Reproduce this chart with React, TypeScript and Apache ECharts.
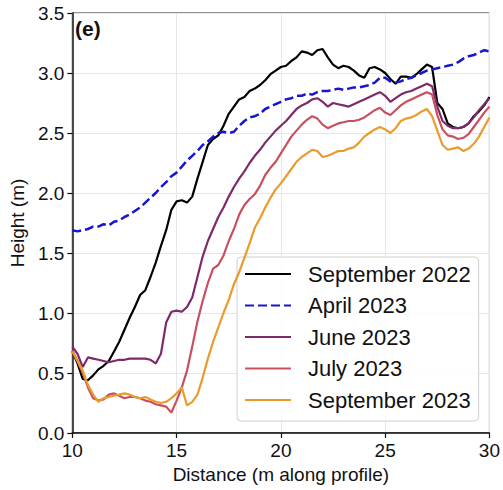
import React, { useEffect, useRef } from "react";
import * as echarts from "echarts";

const distances: number[] = [];
for (let i = 0; i <= 80; i++) distances.push(10 + i * 0.25);

const seriesNames = ["September 2022", "April 2023", "June 2023", "July 2023", "September 2023"];

const sep2022 = [
  0.68, 0.58, 0.45, 0.44, 0.48, 0.53, 0.56, 0.60, 0.68, 0.76,
  0.86, 0.96, 1.05, 1.15, 1.19, 1.30, 1.42, 1.56, 1.69, 1.86,
  1.93, 1.94, 1.92, 1.97, 2.12, 2.26, 2.40, 2.45, 2.48, 2.56,
  2.66, 2.72, 2.78, 2.80, 2.85, 2.87, 2.90, 2.94, 2.99, 3.02,
  3.05, 3.06, 3.10, 3.13, 3.18, 3.17, 3.15, 3.19, 3.20, 3.13,
  3.07, 3.04, 3.06, 3.05, 3.02, 2.98, 2.96, 3.04, 3.05, 3.03,
  3.00, 2.95, 2.91, 2.97, 2.97, 2.96, 2.99, 3.03, 3.07, 3.05,
  2.75, 2.70, 2.58, 2.55, 2.54, 2.55, 2.58, 2.64, 2.68, 2.73,
  2.80,
];

const apr2023 = [
  1.69, 1.68, 1.69, 1.70, 1.72, 1.72, 1.74, 1.73, 1.76, 1.77,
  1.80, 1.82, 1.85, 1.88, 1.92, 1.96, 2.00, 2.05, 2.09, 2.14,
  2.17, 2.22, 2.27, 2.31, 2.35, 2.40, 2.43, 2.47, 2.50, 2.51,
  2.50, 2.51, 2.56, 2.60, 2.63, 2.64, 2.66, 2.70, 2.72, 2.74,
  2.76, 2.78, 2.79, 2.81, 2.81, 2.83, 2.82, 2.84, 2.85, 2.85,
  2.86, 2.87, 2.86, 2.87, 2.88, 2.88, 2.89, 2.90, 2.92, 2.96,
  2.96, 2.93, 2.92, 2.93, 2.95, 2.96, 2.98, 3.00, 3.02, 3.03,
  3.04, 3.05, 3.06, 3.07, 3.09, 3.12, 3.14, 3.15, 3.17, 3.19,
  3.18,
];

const jun2023 = [
  0.72, 0.66, 0.55, 0.63, 0.62, 0.61, 0.60, 0.59, 0.60, 0.61,
  0.61, 0.62, 0.62, 0.62, 0.62, 0.61, 0.58, 0.66, 0.92, 1.01,
  1.02, 1.01, 1.05, 1.13, 1.30, 1.47, 1.60, 1.70, 1.80, 1.88,
  1.97, 2.05, 2.12, 2.18, 2.25, 2.31, 2.36, 2.42, 2.47, 2.52,
  2.56, 2.60, 2.65, 2.70, 2.73, 2.75, 2.78, 2.79, 2.76, 2.72,
  2.75, 2.74, 2.73, 2.72, 2.74, 2.76, 2.78, 2.80, 2.82, 2.84,
  2.81, 2.76, 2.79, 2.82, 2.84, 2.85, 2.87, 2.89, 2.91, 2.89,
  2.72, 2.60, 2.56, 2.54, 2.54, 2.55, 2.58, 2.63, 2.69, 2.74,
  2.79,
];

const jul2023 = [
  0.69, 0.60, 0.50, 0.38, 0.29, 0.27, 0.28, 0.32, 0.33, 0.31,
  0.29, 0.30, 0.30, 0.29, 0.27, 0.26, 0.24, 0.23, 0.22, 0.17,
  0.27, 0.38, 0.52, 0.72, 0.93, 1.10, 1.25, 1.37, 1.40, 1.48,
  1.60, 1.70, 1.82, 1.90, 1.95, 1.99, 2.06, 2.15, 2.21, 2.26,
  2.33, 2.40, 2.47, 2.52, 2.57, 2.61, 2.64, 2.62, 2.57, 2.54,
  2.56, 2.58, 2.59, 2.60, 2.60, 2.61, 2.63, 2.66, 2.69, 2.71,
  2.67, 2.65, 2.69, 2.73, 2.76, 2.78, 2.80, 2.82, 2.84, 2.82,
  2.65, 2.53, 2.48, 2.47, 2.45, 2.46, 2.49, 2.55, 2.61, 2.67,
  2.72,
];

const sep2023 = [
  0.68, 0.60, 0.52, 0.40, 0.32, 0.26, 0.29, 0.30, 0.31, 0.32,
  0.33, 0.32, 0.30, 0.29, 0.30, 0.28, 0.26, 0.25, 0.26, 0.29,
  0.33, 0.38, 0.23, 0.26, 0.32, 0.46, 0.62, 0.76, 0.88, 1.00,
  1.11, 1.24, 1.34, 1.46, 1.58, 1.71, 1.79, 1.88, 1.96, 2.03,
  2.08, 2.14, 2.20, 2.26, 2.30, 2.33, 2.36, 2.35, 2.30, 2.31,
  2.33, 2.35, 2.35, 2.37, 2.38, 2.42, 2.47, 2.50, 2.53, 2.55,
  2.53, 2.50, 2.54, 2.60, 2.62, 2.63, 2.65, 2.68, 2.70, 2.64,
  2.52, 2.40, 2.36, 2.37, 2.38, 2.35, 2.37, 2.41, 2.47, 2.55,
  2.63,
];

const seriesValues = [sep2022, apr2023, jun2023, jul2023, sep2023];
const seriesColors = ["#000000", "#1616d0", "#7d2a6b", "#c8505e", "#eb9b2c"];

const FONT = "'Liberation Sans', Arial, Helvetica, sans-serif";

export default function App() {
  const ref = useRef<HTMLDivElement>(null);
  useEffect(() => {
    if (!ref.current) return;
    const chart = echarts.init(ref.current, undefined, { renderer: "svg" });
    const series = seriesNames.map((name, k) => ({
      name,
      type: "line",
      data: distances.map((d, i) => [d, seriesValues[k][i]]),
      symbol: "none",
      showSymbol: false,
      lineStyle: {
        color: seriesColors[k],
        width: k === 1 ? 2.5 : 2.2,
        type: k === 1 ? [9, 4] : "solid",
      },
      itemStyle: { color: seriesColors[k] },
      z: 2 + k,
    }));
    chart.setOption({
      animation: false,
      backgroundColor: "#ffffff",
      textStyle: { fontFamily: FONT },
      grid: {
        left: 70,
        right: 13,
        top: 13,
        bottom: 57,
        show: true,
        borderColor: "#222222",
        borderWidth: 1,
        backgroundColor: "transparent",
      },
      xAxis: {
        type: "value",
        min: 10,
        max: 30,
        interval: 5,
        name: "Distance (m along profile)",
        nameLocation: "middle",
        nameGap: 30,
        nameTextStyle: { fontSize: 19, color: "#111", fontFamily: FONT },
        axisLine: { show: true, onZero: false, lineStyle: { color: "#111", width: 1.5 } },
        axisTick: { show: true, inside: false, length: 5, lineStyle: { color: "#111", width: 1.2 } },
        axisLabel: { fontSize: 19, color: "#111", margin: 8, fontFamily: FONT },
        splitLine: { show: true, lineStyle: { color: "#e6e6e6", width: 1 } },
      },
      yAxis: {
        type: "value",
        min: 0,
        max: 3.5,
        interval: 0.5,
        name: "Height (m)",
        nameLocation: "middle",
        nameGap: 42,
        nameTextStyle: { fontSize: 19, color: "#111", fontFamily: FONT },
        axisLine: { show: true, onZero: false, lineStyle: { color: "#111", width: 1.5 } },
        axisTick: { show: true, inside: false, length: 5, lineStyle: { color: "#111", width: 1.2 } },
        axisLabel: {
          fontSize: 19,
          color: "#111",
          margin: 8,
          fontFamily: FONT,
          formatter: (v: number) => v.toFixed(1),
        },
        splitLine: { show: true, lineStyle: { color: "#e6e6e6", width: 1 } },
      },
      legend: {
        show: true,
        orient: "vertical",
        left: 237,
        top: 257,
        padding: [5, 8, 9, 7],
        itemWidth: 46,
        itemHeight: 14,
        itemGap: 7.5,
        itemStyle: { opacity: 0, borderWidth: 0 },
        backgroundColor: "rgba(255,255,255,0.85)",
        borderColor: "#d0d0d0",
        borderWidth: 1,
        borderRadius: 4,
        textStyle: {
          fontSize: 22,
          lineHeight: 24,
          color: "#111",
          fontFamily: FONT,
          padding: [0, 0, 0, 12],
        },
        data: seriesNames,
        selectedMode: false,
      },
      graphic: [
        {
          type: "text",
          left: 75,
          top: 18,
          style: {
            text: "(e)",
            fontSize: 21,
            fontWeight: "bold",
            fill: "#111",
            fontFamily: FONT,
          },
          z: 100,
        },
      ],
      series,
    });
    return () => chart.dispose();
  }, []);
  return (
    <div
      ref={ref}
      style={{ position: "absolute", left: 0, top: 0, width: 503, height: 490 }}
    />
  );
}
